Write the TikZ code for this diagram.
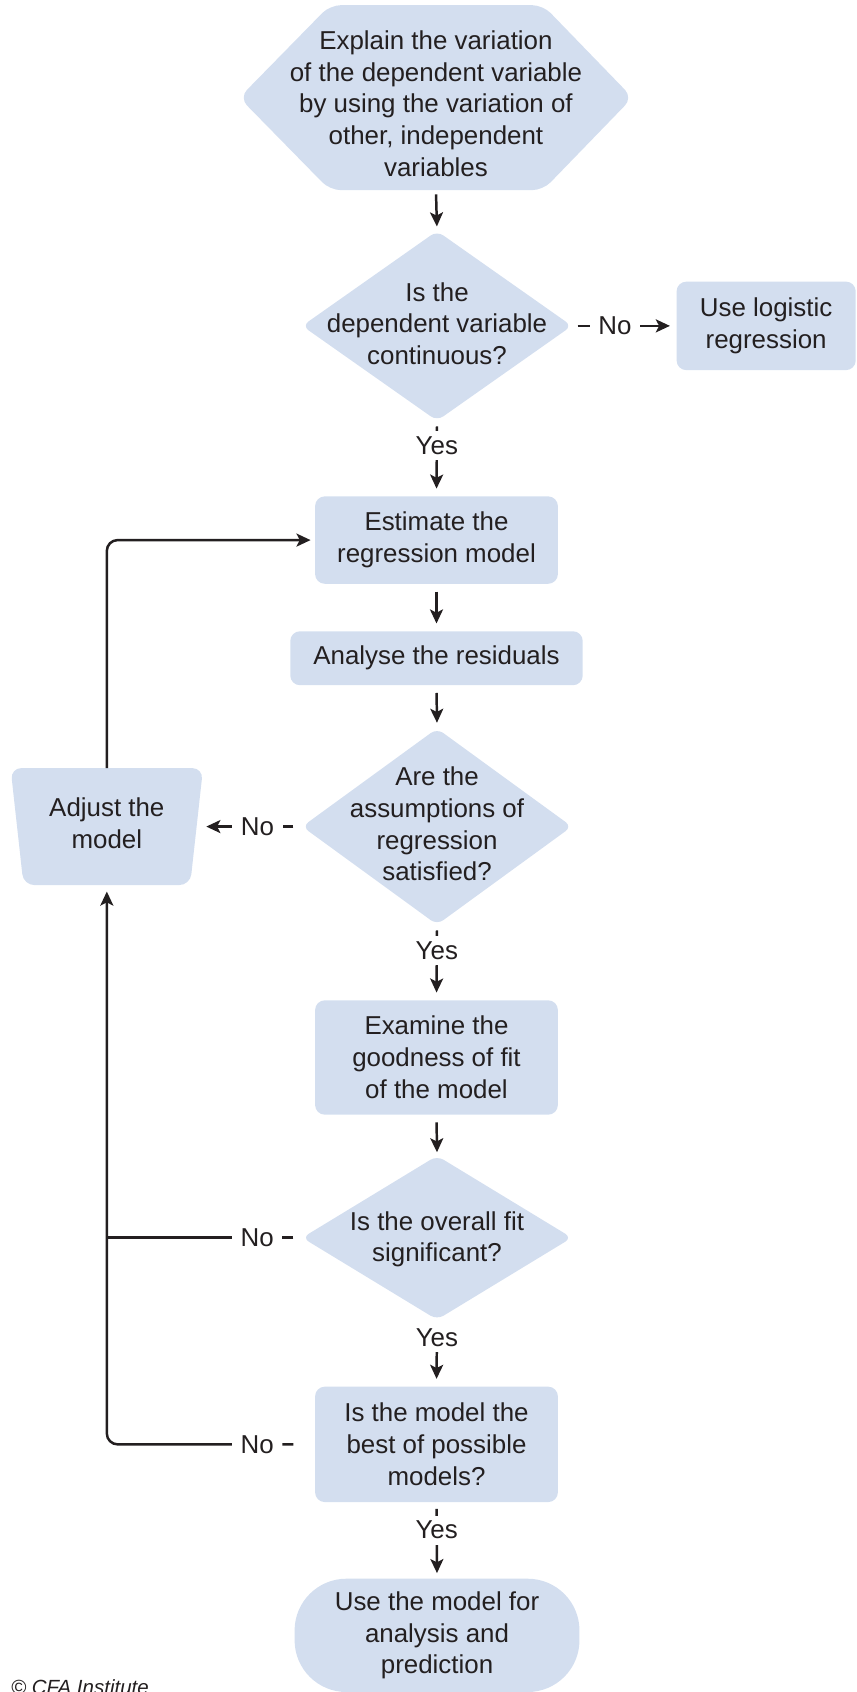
\documentclass[tikz,border=0pt]{standalone}
\usepackage{fontspec}
\setmainfont{Liberation Sans}
\usetikzlibrary{shapes.geometric,arrows.meta,calc}
\definecolor{boxc}{RGB}{211,222,239}
\definecolor{ink}{RGB}{35,31,32}
\begin{document}
\begin{tikzpicture}[x=1pt,y=-1pt,
  txt/.style={align=center, text=ink, font=\fontsize{24}{29.5}\selectfont},
  box/.style={txt, fill=boxc, rounded corners=9pt, inner sep=0pt},
  dia/.style={diamond, fill=boxc, rounded corners=7pt, inner sep=0pt},
  arr/.style={draw=ink, line width=2.3pt, -{Stealth[length=13pt,width=12pt,inset=3pt]}},
  ln/.style={draw=ink, line width=2.3pt},
  lbl/.style={txt, fill=white, inner xsep=8pt, inner ysep=5pt}
]
\useasboundingbox (0,0) rectangle (794,1568);

% hexagon
\node[minimum width=364pt, minimum height=171pt, inner sep=0pt] (hex) at (404,90.5) {};
\fill[boxc, rounded corners=10pt] (hex.west) -- ([xshift=84pt]hex.north west) -- ([xshift=-83pt]hex.north east) -- (hex.east) -- ([xshift=-83pt]hex.south east) -- ([xshift=84pt]hex.south west) -- cycle;
\node[txt] (hextxt) at (404,96) {Explain the variation\\of the dependent variable\\by using the variation of\\other, independent\\variables};

% decision 1
\node[dia, minimum width=250pt, minimum height=176pt] (d1) at (405,302) {};
\node[txt] (d1t) at (405,300) {Is the\\dependent variable\\continuous?};
\node[box, minimum width=166pt, minimum height=82pt] (logit) at (710,302) {Use logistic\\regression};

\node[box, minimum width=225pt, minimum height=81pt] (est) at (404.5,500.5) {Estimate the\\regression model};
\node[box, minimum width=271pt, minimum height=50pt] (res) at (404.5,610) {Analyse the residuals};

% decision 2
\node[dia, minimum width=250pt, minimum height=182pt] (d2) at (405,766) {};
\node[txt] (d2t) at (405,763.5) {Are the\\assumptions of\\regression\\satisfied?};

% adjust (trapezoid)
\node[minimum width=178pt, minimum height=108pt, inner sep=0pt] (adj) at (99,766) {};
\fill[boxc, rounded corners=10pt] (adj.north west) -- (adj.north east) -- ([xshift=-12pt]adj.south east) -- ([xshift=12pt]adj.south west) -- cycle;
\node[txt] (adjt) at (99,763) {Adjust the\\model};

\node[box, minimum width=225pt, minimum height=106pt] (exam) at (404.5,980) {Examine the\\goodness of fit\\of the model};

% decision 3
\node[dia, minimum width=250pt, minimum height=152pt] (d3) at (405,1147) {};
\node[txt] (d3t) at (405,1148.5) {Is the overall fit\\significant?};

\node[box, minimum width=225pt, minimum height=107pt] (best) at (404.5,1338.5) {Is the model the\\best of possible\\models?};
\node[box, rounded corners=48pt, minimum width=264pt, minimum height=105pt] (use) at (405,1515.5) {Use the model for\\analysis and\\prediction};

\node[anchor=base west, text=ink, font=\fontsize{19}{22}\selectfont\itshape, inner sep=0pt] (cfa) at (10,1570) {© CFA Institute};

% connectors
\draw[arr, shorten <=4pt, shorten >=4pt] (hex.south) -- (d1.north);
\draw[arr, shorten <=5pt, shorten >=6pt] (d1.east) -- node[lbl, pos=0.41]{No} (logit.west);
\draw[arr, shorten <=5pt, shorten >=7pt] (d1.south) -- node[lbl, pos=0.33]{Yes} (est.north);
\draw[arr, shorten <=7pt, shorten >=7pt] (est.south) -- (res.north);
\draw[arr, shorten <=7pt, shorten >=5pt] (res.south) -- (d2.north);
\draw[arr, shorten <=8pt, shorten >=3pt] (d2.west) -- node[lbl, pos=0.45]{No} (adj.east);
\draw[arr, shorten <=5pt, shorten >=7pt] (d2.south) -- node[lbl, pos=0.343]{Yes} (exam.north);
\draw[arr, shorten <=7pt, shorten >=3pt] (exam.south) -- (d3.north);
\draw[ln, shorten <=8pt] (d3.west) -- node[lbl, pos=0.229]{No} (adj.south |- d3.west);
\draw[arr, shorten <=4pt, shorten >=7pt] (d3.south) -- node[lbl, pos=0.26]{Yes} (best.north);
\draw[arr, rounded corners=10pt, shorten <=20pt, shorten >=6pt] (best.west) -- node[lbl, pos=0.277]{No} (adj.south |- best.west) -- (adj.south);
\draw[arr, shorten <=6pt, shorten >=5pt] (best.south) -- node[lbl, pos=0.366]{Yes} (use.north);
\draw[arr, rounded corners=10pt, shorten >=4pt] (adj.north) -- (adj.north |- est.west) -- (est.west);
\end{tikzpicture}
\end{document}
